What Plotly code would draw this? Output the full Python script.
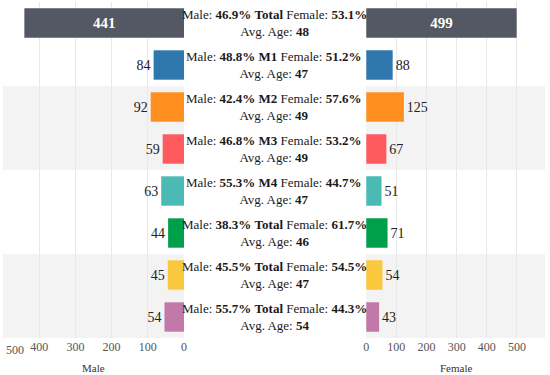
import plotly.graph_objects as go

groups = ["Total", "M1", "M2", "M3", "M4", "Total", "Total", "Total"]
male = [441, 84, 92, 59, 63, 44, 45, 54]
female = [499, 88, 125, 67, 51, 71, 54, 43]
male_pct = [46.9, 48.8, 42.4, 46.8, 55.3, 38.3, 45.5, 55.7]
female_pct = [53.1, 51.2, 57.6, 53.2, 44.7, 61.7, 54.5, 44.3]
avg_age = [48, 47, 49, 49, 47, 46, 47, 54]
colors = ["#535862", "#2e78ae", "#ff8f1f", "#ff5a5e", "#4cbab4", "#00a04b", "#fac83c", "#c279a8"]
left_ticks = [0, 100, 200, 300, 400, 500]
right_ticks = [0, 100, 200, 300, 400, 500]
axis_titles = ["Male", "Female"]

rows = list(range(len(groups)))
FONT = "Liberation Serif"
PLOT_H = 375 - 2 - 37

def labels(vals):
    return [f"<b>{v}</b>" if i == 0 else str(v) for i, v in enumerate(vals)]

positions = ["inside"] + ["outside"] * (len(rows) - 1)
tcolors = ["white"] + ["#222"] * (len(rows) - 1)
tsizes = [15] + [14] * (len(rows) - 1)

fig = go.Figure()
fig.add_trace(go.Bar(
    x=male, y=rows, orientation="h", marker=dict(color=colors, line=dict(width=0)),
    xaxis="x", yaxis="y", text=labels(male), textposition=positions,
    insidetextanchor="middle",
    textfont=dict(color=tcolors, size=tsizes, family=FONT),
    cliponaxis=False, width=0.7, hoverinfo="skip", showlegend=False))
fig.add_trace(go.Bar(
    x=female, y=rows, orientation="h", marker=dict(color=colors, line=dict(width=0)),
    xaxis="x2", yaxis="y", text=labels(female), textposition=positions,
    insidetextanchor="middle",
    textfont=dict(color=tcolors, size=tsizes, family=FONT),
    cliponaxis=False, width=0.7, hoverinfo="skip", showlegend=False))

shapes = []
for y0, y1 in [(1.5, 3.5), (5.5, 7.5)]:
    for xr in ["x domain", "x2 domain"]:
        shapes.append(dict(type="rect", xref=xr, x0=0, x1=1, yref="y", y0=y0, y1=y1,
                           fillcolor="#f3f3f3", line=dict(width=0), layer="below"))

annotations = []
for i in rows:
    annotations.append(dict(
        xref="paper", x=0.5, yref="y", y=i, showarrow=False,
        text=(f"Male: <b>{male_pct[i]:.1f}%</b> <b>{groups[i]}</b> Female: <b>{female_pct[i]:.1f}%</b>"
              f"<br>Avg. Age: <b>{avg_age[i]}</b>"),
        font=dict(family=FONT, size=13, color="#1a1a1a"), align="center"))
# outermost left tick label sits inside the chart edge
annotations.append(dict(xref="x", x=left_ticks[-1], yref="paper", y=-12 / PLOT_H, yanchor="middle",
                        xanchor="left", xshift=1, showarrow=False, text=str(left_ticks[-1]),
                        font=dict(family=FONT, size=12, color="#555")))
for xr, t in zip(["x domain", "x2 domain"], axis_titles):
    annotations.append(dict(xref=xr, x=0.5, yref="paper", y=-30 / PLOT_H, yanchor="middle",
                            showarrow=False, text=t,
                            font=dict(family=FONT, size=11, color="#333")))

axis_common = dict(showgrid=True, gridcolor="#e8e8e8", gridwidth=1, zeroline=False,
                   showline=False, ticks="", tickfont=dict(family=FONT, size=12, color="#555"),
                   anchor="y", fixedrange=True, automargin=False)

fig.update_layout(
    width=550, height=375,
    margin=dict(l=3, r=5, t=2, b=37, autoexpand=False),
    paper_bgcolor="white", plot_bgcolor="white",
    xaxis=dict(domain=[0, 0.334], range=[500, 0], tickvals=left_ticks[:-1], **axis_common),
    xaxis2=dict(domain=[0.67, 1], range=[0, 593], tickvals=right_ticks, **axis_common),
    yaxis=dict(range=[7.5, -0.5], showgrid=False, zeroline=False, showticklabels=False,
               showline=False, fixedrange=True, automargin=False),
    shapes=shapes, annotations=annotations,
    bargap=0.3, font=dict(family=FONT),
)

fig.write_html("out.html", config={"displayModeBar": False, "staticPlot": True},
               post_script="document.body.style.margin='0';document.body.style.padding='0';")
